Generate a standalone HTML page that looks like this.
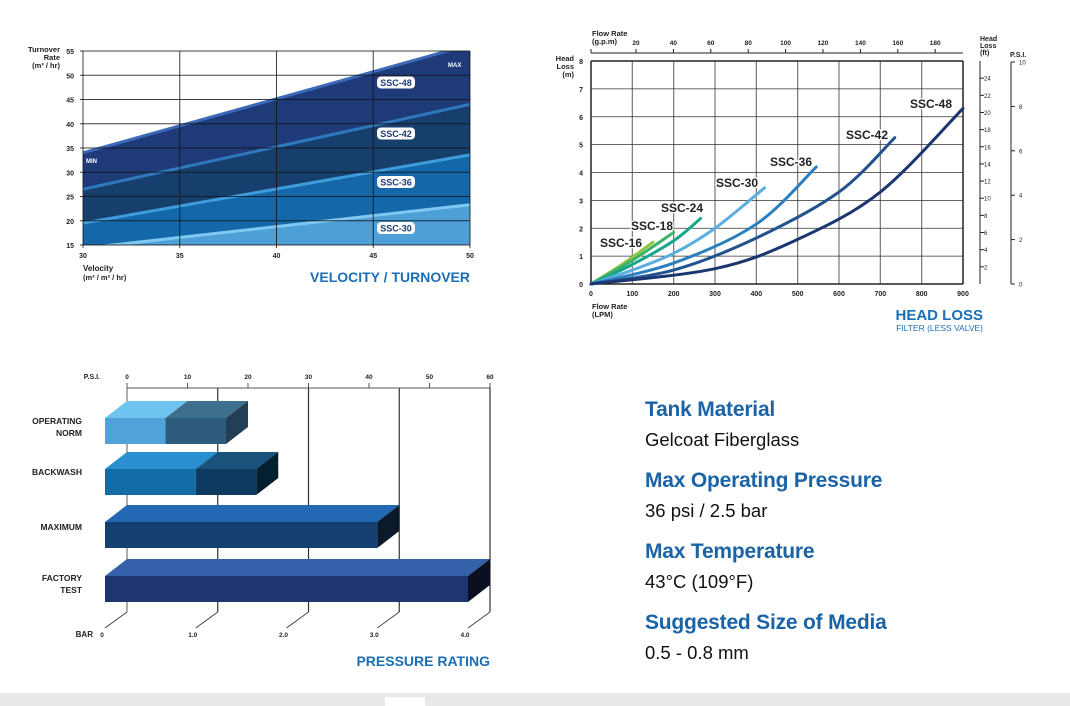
<!DOCTYPE html>
<html><head><meta charset="utf-8">
<style>
body{margin:0;background:#fff;width:1070px;height:706px;overflow:hidden;font-family:"Liberation Sans",sans-serif;position:relative}
.t{position:absolute;margin:0;white-space:nowrap}
.h{color:#1a63a6;font-weight:bold;font-size:21px;left:645px;letter-spacing:-0.2px}
.v{color:#111;font-size:18.5px;left:645px}
</style></head><body>
<svg width="1070" height="706" style="position:absolute;left:0;top:0" font-family="Liberation Sans, sans-serif">
<g id="c1"></g>
<g id="c2"></g>
<g id="c3"></g>
<rect x="0" y="693" width="1070" height="13" fill="#e9e9e9"/>
<rect x="385" y="697" width="40" height="9" fill="#fff"/>
</svg>
<div class="t h" style="top:398px">Tank Material</div>
<div class="t v" style="top:429px">Gelcoat Fiberglass</div>
<div class="t h" style="top:469px">Max Operating Pressure</div>
<div class="t v" style="top:500px">36 psi / 2.5 bar</div>
<div class="t h" style="top:540px">Max Temperature</div>
<div class="t v" style="top:571px">43°C (109°F)</div>
<div class="t h" style="top:611px">Suggested Size of Media</div>
<div class="t v" style="top:642px">0.5 - 0.8 mm</div>
<script>
const NS="http://www.w3.org/2000/svg";
function mk(p,tag,a,txt){const e=document.createElementNS(NS,tag);for(const k in a)e.setAttribute(k,a[k]);if(txt!==undefined)e.textContent=txt;p.appendChild(e);return e;}

// ---------- Chart 1 data ----------
const velEnds=[30,50];
const max48=[34,56.3];
const top42=[26.5,44];
const top36=[19.5,33.6];
const top30=[14.3,23.3];
const c1Labels=["SSC-48","SSC-42","SSC-36","SSC-30"];
const c1LabelTurn=[48.5,38,28,18.5];
const c1xTicks=[30,35,40,45,50];
const c1yTicks=[15,20,25,30,35,40,45,50,55];

// ---------- Chart 2 data ----------
const hlNames=["SSC-16","SSC-18","SSC-24","SSC-30","SSC-36","SSC-42","SSC-48"];
const hl16=[[0,0],[75,0.7],[150,1.5]];
const hl18=[[0,0],[100,0.85],[200,1.85]];
const hl24=[[0,0],[100,0.7],[200,1.55],[265,2.35]];
const hl30=[[0,0],[100,0.5],[200,1.1],[300,2.0],[420,3.45]];
const hl36=[[0,0],[200,0.75],[400,2.15],[545,4.2]];
const hl42=[[0,0],[200,0.5],[400,1.65],[600,3.3],[735,5.25]];
const hl48=[[0,0],[300,0.55],[500,1.6],[700,3.3],[900,6.3]];
const lpmTicks=[0,100,200,300,400,500,600,700,800,900];
const mTicks=[0,1,2,3,4,5,6,7,8];
const gpmTicks=[20,40,60,80,100,120,140,160,180];
const ftTicks=[2,4,6,8,10,12,14,16,18,20,22,24];
const psiTicks=[0,2,4,6,8,10];

// ---------- Chart 3 data ----------
const prCats=["OPERATING|NORM","BACKWASH","MAXIMUM","FACTORY|TEST"];
const prLow=[10,15,45,60];
const prHigh=[20,25,45,60];
const prPsiTicks=[0,10,20,30,40,50,60];
const prBarTicks=["0","1.0","2.0","3.0","4.0"];

// ===== Chart 1 =====
(function(){
const g=document.getElementById('c1');
const X=v=>83+(v-30)/20*387, Y=v=>245-(v-15)/40*194;
const defs=mk(g,'defs',{});const cp=mk(defs,'clipPath',{id:'cp1'});
mk(cp,'rect',{x:83,y:51,width:387,height:194});
const bands=[[max48,'#1f3a78','#3b68b7'],[top42,'#173f6e','#2f78bd'],[top36,'#1467a8','#3c9dda'],[top30,'#4d9fd6','#7fc8f1']];
const cg=mk(g,'g',{'clip-path':'url(#cp1)'});
bands.forEach((b,i)=>{
 const s=b[0];
 const p=mk(cg,'polygon',{points:`${X(velEnds[0])},${Y(s[0])} ${X(velEnds[1])},${Y(s[1])} ${X(50)},${Y(15)} ${X(30)},${Y(15)}`,fill:b[1]});
 
 
 const l=mk(cg,'line',{x1:X(velEnds[0]),y1:Y(s[0]),x2:X(velEnds[1]),y2:Y(s[1]),stroke:b[2],'stroke-width':3});
 
 
});
c1yTicks.forEach(t=>{mk(g,'line',{x1:80,x2:470,y1:Y(t),y2:Y(t),stroke:'#111','stroke-width':1,opacity:0.8});
 const e=mk(g,'text',{x:74,y:Y(t)+3,'font-size':7,'font-weight':'bold','text-anchor':'end',fill:'#222'},t);
 
 });
c1xTicks.forEach(t=>{mk(g,'line',{x1:X(t),x2:X(t),y1:51,y2:248,stroke:'#111','stroke-width':1,opacity:0.8});
 const e=mk(g,'text',{x:X(t),y:258,'font-size':7,'font-weight':'bold','text-anchor':'middle',fill:'#222'},t);
 
 });
c1Labels.forEach((n,i)=>{const y=Y(c1LabelTurn[i]);
 mk(g,'rect',{x:377,y:y-6,width:38,height:12,rx:4,fill:'#fff'});
 const e=mk(g,'text',{x:396,y:y+3.5,'font-size':9,'font-weight':'bold','text-anchor':'middle',fill:'#1f3a78'},n);
 
 });
mk(g,'text',{x:86,y:163,'font-size':6,'font-weight':'bold',fill:'#fff'},'MIN');
mk(g,'text',{x:448,y:67,'font-size':6,'font-weight':'bold',fill:'#fff'},'MAX');
[['Turnover',52],['Rate',60],['(m³ / hr)',68]].forEach(a=>mk(g,'text',{x:60,y:a[1],'font-size':7.5,'font-weight':'bold','text-anchor':'end',fill:'#222'},a[0]));
mk(g,'text',{x:83,y:271,'font-size':8,'font-weight':'bold',fill:'#222'},'Velocity');
mk(g,'text',{x:83,y:280,'font-size':7.5,'font-weight':'bold',fill:'#222'},'(m³ / m² / hr)');
const ti=mk(g,'text',{x:470,y:282,'font-size':14,'font-weight':'bold','text-anchor':'end',fill:'#1a6fb5'},'VELOCITY / TURNOVER');


})();

// ===== Chart 2 =====
(function(){
const g=document.getElementById('c2');
const X=v=>591+v/900*372, Y=v=>284-v/8*223;
lpmTicks.forEach(t=>{mk(g,'line',{x1:X(t),x2:X(t),y1:61,y2:284,stroke:t==0||t==900?'#222':'#777','stroke-width':t==0||t==900?1.5:1.2});
 mk(g,'text',{x:X(t),y:296,'font-size':7,'font-weight':'bold','text-anchor':'middle',fill:'#222'},t);});
mTicks.forEach(t=>{mk(g,'line',{x1:591,x2:963,y1:Y(t),y2:Y(t),stroke:t==8||t==0?'#222':'#333','stroke-width':t==8||t==0?1.5:0.8});
 mk(g,'text',{x:583,y:Y(t)+3,'font-size':7,'font-weight':'bold','text-anchor':'end',fill:'#222'},t);});
mk(g,'line',{x1:591,x2:963,y1:53,y2:53,stroke:'#222','stroke-width':1});
mk(g,'line',{x1:591,x2:591,y1:49,y2:53,stroke:'#222'});
gpmTicks.forEach((t,i)=>{const x=636+(t-20)/20*37.4;mk(g,'line',{x1:x,x2:x,y1:49,y2:53,stroke:'#222'});
 mk(g,'text',{x:x,y:45,'font-size':6.5,'font-weight':'bold','text-anchor':'middle',fill:'#222'},t);});
mk(g,'text',{x:592,y:36,'font-size':7.5,'font-weight':'bold',fill:'#222'},'Flow Rate');
mk(g,'text',{x:592,y:44,'font-size':7.5,'font-weight':'bold',fill:'#222'},'(g.p.m)');
[['Head',61],['Loss',69],['(m)',77]].forEach(a=>mk(g,'text',{x:574,y:a[1],'font-size':7.5,'font-weight':'bold','text-anchor':'end',fill:'#222'},a[0]));
mk(g,'line',{x1:980,x2:980,y1:61,y2:284,stroke:'#222'});
ftTicks.forEach(t=>{const y=284-t/26*223;mk(g,'line',{x1:980,x2:984,y1:y,y2:y,stroke:'#222'});
 mk(g,'text',{x:984,y:y+2.5,'font-size':6,'fill':'#222'},t);});
[['Head',41],['Loss',48],['(ft)',55]].forEach(a=>mk(g,'text',{x:980,y:a[1],'font-size':7,'font-weight':'bold',fill:'#222'},a[0]));
mk(g,'line',{x1:1011,x2:1011,y1:62,y2:284,stroke:'#222'});
psiTicks.forEach(t=>{const y=284-t/10*222;mk(g,'line',{x1:1011,x2:1015,y1:y,y2:y,stroke:'#222'});
 mk(g,'text',{x:1019,y:y+2.5,'font-size':6,'fill':'#222'},t);});
mk(g,'text',{x:1010,y:57,'font-size':7,'font-weight':'bold',fill:'#222'},'P.S.I.');
const series=[hl16,hl18,hl24,hl30,hl36,hl42,hl48];
const cols=['#8cc63f','#3fb06c','#19a58a','#5aaee0','#2a7fbf','#22538f','#1c3670'];
const lab=[[600,243],[631,226],[661,208],[716,183],[770,162],[846,135],[910,104]];
series.forEach((s,i)=>{
 const P=s.map(p=>[X(p[0]),Y(p[1])]);
 let d=`M${P[0][0]},${P[0][1]}`;
 for(let k=0;k<P.length-1;k++){const p0=P[k-1]||P[k],p1=P[k],p2=P[k+1],p3=P[k+2]||P[k+1];
  d+=` C${p1[0]+(p2[0]-p0[0])/6},${p1[1]+(p2[1]-p0[1])/6} ${p2[0]-(p3[0]-p1[0])/6},${p2[1]-(p3[1]-p1[1])/6} ${p2[0]},${p2[1]}`;}
 const e=mk(g,'path',{d:d,fill:'none',stroke:cols[i],'stroke-width':3,'stroke-linecap':'round'});
 
 
 const t=mk(g,'text',{x:lab[i][0],y:lab[i][1]+4,'font-size':12,'font-weight':'bold',fill:'#222',stroke:'#fff','stroke-width':2.5,'paint-order':'stroke'},hlNames[i]);
 
 
});
mk(g,'text',{x:592,y:309,'font-size':7.5,'font-weight':'bold',fill:'#222'},'Flow Rate');
mk(g,'text',{x:592,y:317,'font-size':7.5,'font-weight':'bold',fill:'#222'},'(LPM)');
const ti=mk(g,'text',{x:983,y:320,'font-size':15,'font-weight':'bold','text-anchor':'end',fill:'#1a6fb5'},'HEAD LOSS');


mk(g,'text',{x:983,y:331,'font-size':8.5,'text-anchor':'end',fill:'#1a6fb5'},'FILTER (LESS VALVE)');
})();

// ===== Chart 3 =====
(function(){
const g=document.getElementById('c3');
const X=v=>127+v/60*363;
const dx=22,dy=17;
mk(g,'line',{x1:127,x2:490,y1:388,y2:388,stroke:'#555'});
prPsiTicks.forEach(t=>{mk(g,'line',{x1:X(t),x2:X(t),y1:383,y2:388,stroke:'#555'});
 mk(g,'text',{x:X(t),y:379,'font-size':6.5,'font-weight':'bold','text-anchor':'middle',fill:'#222'},t);});
mk(g,'text',{x:100,y:379,'font-size':7,'font-weight':'bold','text-anchor':'end',fill:'#222'},'P.S.I.');
prBarTicks.forEach((t,i)=>{const x=127+i*90.75;
 mk(g,'line',{x1:x,x2:x,y1:388,y2:612,stroke:i==0?'#777':'#333','stroke-width':1.2});
 mk(g,'line',{x1:x,x2:x-22,y1:612,y2:628,stroke:'#333','stroke-width':0.8});
 mk(g,'text',{x:x-25,y:637,'font-size':6.5,'font-weight':'bold','text-anchor':'middle',fill:'#222'},t);});
mk(g,'text',{x:93,y:637,'font-size':8,'font-weight':'bold','text-anchor':'end',fill:'#222'},'BAR');
const rowTop=[418,469,522,576];
const labY=[[424,436],[475],[530],[581,593]];
const fronts=[['#4fa3d8','#2f5b7c'],['#136ba8','#0e3a5f'],['#143f70','#143f70'],['#1f3570','#1f3570']];
const tops=[['#6cc4ef','#3e6f8c'],['#2a8fd0','#19527a'],['#2268b2','#2268b2'],['#3561ab','#3561ab']];
const sides=['#233f55','#02202f','#0b1a2b','#0a1020'];
prCats.forEach((c,i)=>{
 const y=rowTop[i],h=26,x0=X(0)-dx,xm=X(prLow[i])-dx,xe=X(prHigh[i])-dx;
 const segs=[[x0,xm,0],[xm,xe,1]];
 segs.forEach(s=>{if(s[1]<=s[0])return;
  const f=mk(g,'rect',{x:s[0],y:y,width:s[1]-s[0],height:h,fill:fronts[i][s[2]]});
  
  
  mk(g,'polygon',{points:`${s[0]},${y} ${s[0]+dx},${y-dy} ${s[1]+dx},${y-dy} ${s[1]},${y}`,fill:tops[i][s[2]]});});
 mk(g,'polygon',{points:`${xe},${y} ${xe+dx},${y-dy} ${xe+dx},${y+h-dy} ${xe},${y+h}`,fill:sides[i]});
 const parts=c.split('|');
 parts.forEach((p,k)=>{const e=mk(g,'text',{x:82,y:labY[i][k],'font-size':8.5,'font-weight':'bold','text-anchor':'end',fill:'#222'},p);
  
  });
});
const ti=mk(g,'text',{x:490,y:666,'font-size':14,'font-weight':'bold','text-anchor':'end',fill:'#1a6fb5'},'PRESSURE RATING');


})();
</script>
</body></html>
